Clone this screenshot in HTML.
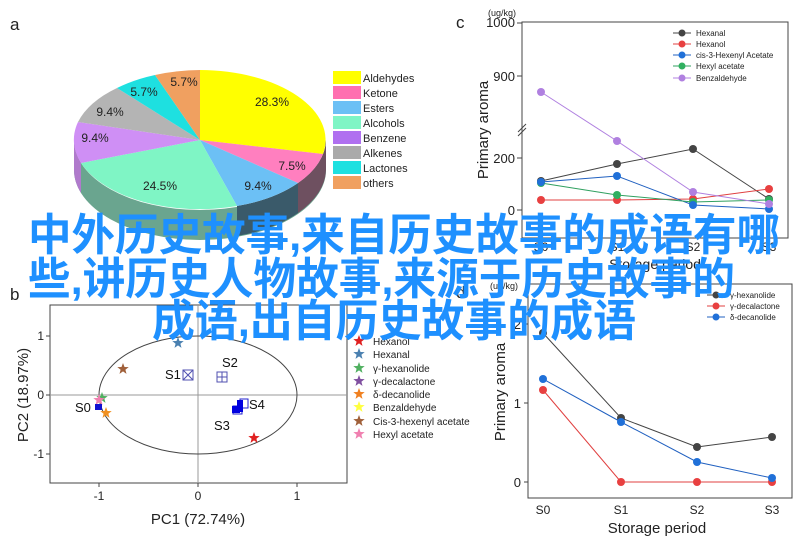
<!DOCTYPE html>
<html><head><meta charset="utf-8"><style>
html,body{margin:0;padding:0;background:#fff;}
svg{display:block;font-family:"Liberation Sans",Arial,sans-serif;}
</style></head><body>
<svg width="808" height="543" viewBox="0 0 808 543" xmlns="http://www.w3.org/2000/svg">
<defs>
<path id="star" d="M0,-6 L1.5,-2 L5.7,-1.9 L2.4,0.7 L3.5,4.9 L0,2.4 L-3.5,4.9 L-2.4,0.7 L-5.7,-1.9 L-1.5,-2 Z"/>
</defs>
<rect width="808" height="543" fill="#fff"/>
<!-- Panel a -->
<text x="10" y="30" font-size="17" fill="#222">a</text>
<path d="M74,140 A126,70 0 0 0 326,140 L326,170 A126,70 0 0 1 74,170 Z" fill="#6aa58f"/>
<path d="M237,206 A126,70 0 0 0 298,183 L298,213 A126,70 0 0 1 237,236 Z" fill="#3a5a6a"/>
<path d="M298,183 A126,70 0 0 0 326,140 L326,170 A126,70 0 0 1 298,213 Z" fill="#6e5060"/>
<path d="M74,140 A126,70 0 0 0 81,163 L81,193 A126,70 0 0 1 74,170 Z" fill="#b07acc"/>
<g stroke="none">
<path d="M200,140 L200,70 A126,70 0 0 1 323,154 Z" fill="#ffff00"/>
<path d="M200,140 L323,154 A126,70 0 0 1 298,183 Z" fill="#ff7fbf"/>
<path d="M200,140 L298,183 A126,70 0 0 1 237,206 Z" fill="#6cc0f5"/>
<path d="M200,140 L237,206 A126,70 0 0 1 81,163 Z" fill="#7ff5c5"/>
<path d="M200,140 L81,163 A126,70 0 0 1 78,122 Z" fill="#cf8ff5"/>
<path d="M200,140 L78,122 A126,70 0 0 1 117,88 Z" fill="#b4b4b4"/>
<path d="M200,140 L117,88 A126,70 0 0 1 155,75 Z" fill="#1ee0e0"/>
<path d="M200,140 L155,75 A126,70 0 0 1 200,70 Z" fill="#f0a060"/>
</g>
<g font-size="12" fill="#222" text-anchor="middle">
<text x="272" y="106">28.3%</text><text x="292" y="170">7.5%</text><text x="258" y="190">9.4%</text>
<text x="160" y="190">24.5%</text><text x="95" y="142">9.4%</text><text x="110" y="116">9.4%</text>
<text x="144" y="96">5.7%</text><text x="184" y="86">5.7%</text>
</g>
<g font-size="11" fill="#222">
<rect x="333" y="71" width="28" height="13" fill="#ffff00"/><text x="363" y="82">Aldehydes</text>
<rect x="333" y="86" width="28" height="13" fill="#ff6fb0"/><text x="363" y="97">Ketone</text>
<rect x="333" y="101" width="28" height="13" fill="#6cc0f5"/><text x="363" y="112">Esters</text>
<rect x="333" y="116" width="28" height="13" fill="#7ff5c5"/><text x="363" y="127">Alcohols</text>
<rect x="333" y="131" width="28" height="13" fill="#b070f0"/><text x="363" y="142">Benzene</text>
<rect x="333" y="146" width="28" height="13" fill="#aaaaaa"/><text x="363" y="157">Alkenes</text>
<rect x="333" y="161" width="28" height="13" fill="#1ee0e0"/><text x="363" y="172">Lactones</text>
<rect x="333" y="176" width="28" height="13" fill="#f0a060"/><text x="363" y="187">others</text>
</g>
<!-- Panel c -->
<text x="456" y="28" font-size="17" fill="#222">c</text>
<text x="488" y="16" font-size="9" fill="#222">(ug/kg)</text>
<rect x="522" y="22" width="266" height="216" fill="none" stroke="#444" stroke-width="1"/>
<g stroke="#444"><line x1="522" y1="23" x2="517" y2="23"/><line x1="522" y1="76" x2="517" y2="76"/><line x1="522" y1="158" x2="517" y2="158"/><line x1="522" y1="210" x2="517" y2="210"/></g>
<line x1="518" y1="132" x2="526" y2="124" stroke="#444"/><line x1="518" y1="136" x2="526" y2="128" stroke="#444"/>
<g font-size="13" fill="#222" text-anchor="end">
<text x="515" y="27">1000</text><text x="515" y="81">900</text><text x="515" y="163">200</text><text x="515" y="215">0</text>
</g>
<text transform="translate(488,130) rotate(-90)" font-size="15" text-anchor="middle" fill="#222">Primary aroma</text>
<g font-size="12" fill="#222" text-anchor="middle"><text x="541" y="251">S0</text><text x="617" y="251">S1</text><text x="693" y="251">S2</text><text x="769" y="251">S3</text></g>
<text x="655" y="269" font-size="14" text-anchor="middle" fill="#222">Storage period</text>
<g stroke-width="1" fill="none">
<polyline points="541,181 617,164 693,149 769,199" stroke="#444"/>
<polyline points="541,200 617,200 693,199 769,189" stroke="#e04040"/>
<polyline points="541,182 617,176 693,205 769,209" stroke="#2060c0"/>
<polyline points="541,183 617,195 693,202 769,200" stroke="#30a060"/>
<polyline points="541,92 617,141 693,192 769,204" stroke="#b080e0"/>
</g>
<g>
<circle cx="541" cy="181" r="4" fill="#444"/><circle cx="617" cy="164" r="4" fill="#444"/><circle cx="693" cy="149" r="4" fill="#444"/><circle cx="769" cy="199" r="4" fill="#444"/>
<circle cx="541" cy="200" r="4" fill="#e84040"/><circle cx="617" cy="200" r="4" fill="#e84040"/><circle cx="693" cy="199" r="4" fill="#e84040"/><circle cx="769" cy="189" r="4" fill="#e84040"/>
<circle cx="541" cy="183" r="4" fill="#30b060"/><circle cx="617" cy="195" r="4" fill="#30b060"/><circle cx="693" cy="202" r="4" fill="#30b060"/><circle cx="769" cy="200" r="4" fill="#30b060"/>
<circle cx="541" cy="182" r="4" fill="#2070d8"/><circle cx="617" cy="176" r="4" fill="#2070d8"/><circle cx="693" cy="205" r="4" fill="#2070d8"/><circle cx="769" cy="209" r="4" fill="#2070d8"/>
<circle cx="541" cy="92" r="4" fill="#b080e0"/><circle cx="617" cy="141" r="4" fill="#b080e0"/><circle cx="693" cy="192" r="4" fill="#b080e0"/><circle cx="769" cy="204" r="4" fill="#b080e0"/>
</g>
<g font-size="8" fill="#222">
<line x1="673" y1="33" x2="691" y2="33" stroke="#444"/><circle cx="682" cy="33" r="3.5" fill="#444"/><text x="696" y="36">Hexanal</text>
<line x1="673" y1="44" x2="691" y2="44" stroke="#e04040"/><circle cx="682" cy="44" r="3.5" fill="#e84040"/><text x="696" y="47">Hexanol</text>
<line x1="673" y1="55" x2="691" y2="55" stroke="#2060c0"/><circle cx="682" cy="55" r="3.5" fill="#2070d8"/><text x="696" y="58">cis-3-Hexenyl Acetate</text>
<line x1="673" y1="66" x2="691" y2="66" stroke="#30a060"/><circle cx="682" cy="66" r="3.5" fill="#30b060"/><text x="696" y="69">Hexyl acetate</text>
<line x1="673" y1="78" x2="691" y2="78" stroke="#b080e0"/><circle cx="682" cy="78" r="3.5" fill="#b080e0"/><text x="696" y="81">Benzaldehyde</text>
</g>
<!-- Panel b -->
<text x="10" y="300" font-size="17" fill="#222">b</text>
<rect x="50" y="305" width="297" height="178" fill="none" stroke="#444"/>
<line x1="198" y1="305" x2="198" y2="483" stroke="#999"/><line x1="50" y1="395" x2="347" y2="395" stroke="#999"/>
<ellipse cx="198" cy="395" rx="99" ry="59" fill="none" stroke="#444"/>
<g stroke="#444"><line x1="99" y1="483" x2="99" y2="487"/><line x1="198" y1="483" x2="198" y2="487"/><line x1="297" y1="483" x2="297" y2="487"/>
<line x1="50" y1="336" x2="46" y2="336"/><line x1="50" y1="395" x2="46" y2="395"/><line x1="50" y1="454" x2="46" y2="454"/></g>
<g font-size="12" fill="#222" text-anchor="middle"><text x="99" y="500">-1</text><text x="198" y="500">0</text><text x="297" y="500">1</text></g>
<g font-size="12" fill="#222" text-anchor="end"><text x="44" y="340">1</text><text x="44" y="399">0</text><text x="44" y="458">-1</text></g>
<text x="198" y="524" font-size="15" text-anchor="middle" fill="#222">PC1 (72.74%)</text>
<text transform="translate(28,395) rotate(-90)" font-size="15" text-anchor="middle" fill="#222">PC2 (18.97%)</text>
<use href="#star" x="178" y="343" fill="#4a80b0"/>
<use href="#star" x="123" y="369" fill="#a0603a"/>
<use href="#star" x="254" y="438" fill="#e02020"/>
<use href="#star" x="102" y="398" fill="#50b060"/>
<use href="#star" x="99" y="400" fill="#f080b0"/>
<use href="#star" x="106" y="413" fill="#f09020"/>
<rect x="95" y="404" width="7" height="6" fill="#1010d0"/>
<rect x="183" y="370" width="10" height="10" fill="none" stroke="#5050b0"/><path d="M183,370 L193,380 M193,370 L183,380" stroke="#5050b0"/>
<rect x="217" y="372" width="10" height="10" fill="none" stroke="#5050b0"/><path d="M222,372 V382 M217,377 H227" stroke="#5050b0"/>
<rect x="240" y="399" width="8" height="9" fill="none" stroke="#2020d0"/>
<rect x="233" y="406" width="9" height="8" fill="none" stroke="#2020d0"/>
<rect x="237" y="400" width="6" height="12" fill="#0000e0"/><rect x="232" y="406" width="8" height="7" fill="#0000e0"/>
<g font-size="13" fill="#111"><text x="165" y="379">S1</text><text x="222" y="367">S2</text><text x="249" y="409">S4</text><text x="214" y="430">S3</text><text x="75" y="412">S0</text></g>
<g font-size="10" fill="#222">
<use href="#star" x="359" y="341" fill="#e02020"/><text x="373" y="345">Hexanol</text>
<use href="#star" x="359" y="354" fill="#4a80b0"/><text x="373" y="358">Hexanal</text>
<use href="#star" x="359" y="368" fill="#50b060"/><text x="373" y="372">γ-hexanolide</text>
<use href="#star" x="359" y="381" fill="#8050a0"/><text x="373" y="385">γ-decalactone</text>
<use href="#star" x="359" y="394" fill="#f08020"/><text x="373" y="398">δ-decanolide</text>
<use href="#star" x="359" y="407" fill="#ffff40"/><text x="373" y="411">Benzaldehyde</text>
<use href="#star" x="359" y="421" fill="#a0603a"/><text x="373" y="425">Cis-3-hexenyl acetate</text>
<use href="#star" x="359" y="434" fill="#f080b0"/><text x="373" y="438">Hexyl acetate</text>
</g>
<!-- Panel d -->
<text x="456" y="298" font-size="17" fill="#222">d</text>
<text x="490" y="289" font-size="9" fill="#222">(ug/kg)</text>
<rect x="528" y="284" width="264" height="214" fill="none" stroke="#444"/>
<g stroke="#444"><line x1="528" y1="482" x2="524" y2="482"/><line x1="528" y1="403" x2="524" y2="403"/><line x1="528" y1="324" x2="524" y2="324"/></g>
<g font-size="13" fill="#222" text-anchor="end"><text x="521" y="487">0</text><text x="521" y="408">1</text><text x="521" y="329">2</text></g>
<text transform="translate(505,392) rotate(-90)" font-size="15" text-anchor="middle" fill="#222">Primary aroma</text>
<g font-size="12" fill="#222" text-anchor="middle"><text x="543" y="514">S0</text><text x="621" y="514">S1</text><text x="697" y="514">S2</text><text x="772" y="514">S3</text></g>
<text x="657" y="533" font-size="15" text-anchor="middle" fill="#222">Storage period</text>
<polyline points="543,333 621,418 697,447 772,437" fill="none" stroke="#444"/>
<polyline points="543,390 621,482 697,482 772,482" fill="none" stroke="#e04040"/>
<polyline points="543,379 621,422 697,462 772,478" fill="none" stroke="#2060c0"/>
<g fill="#444"><circle cx="543" cy="333" r="4"/><circle cx="621" cy="418" r="4"/><circle cx="697" cy="447" r="4"/><circle cx="772" cy="437" r="4"/></g>
<g fill="#e84040"><circle cx="543" cy="390" r="4"/><circle cx="621" cy="482" r="4"/><circle cx="697" cy="482" r="4"/><circle cx="772" cy="482" r="4"/></g>
<g fill="#2070d8"><circle cx="543" cy="379" r="4"/><circle cx="621" cy="422" r="4"/><circle cx="697" cy="462" r="4"/><circle cx="772" cy="478" r="4"/></g>
<g font-size="8" fill="#222">
<line x1="707" y1="295" x2="725" y2="295" stroke="#444"/><circle cx="716" cy="295" r="3.5" fill="#444"/><text x="730" y="298">γ-hexanolide</text>
<line x1="707" y1="306" x2="725" y2="306" stroke="#e04040"/><circle cx="716" cy="306" r="3.5" fill="#e84040"/><text x="730" y="309">γ-decalactone</text>
<line x1="707" y1="317" x2="725" y2="317" stroke="#2060c0"/><circle cx="716" cy="317" r="3.5" fill="#2070d8"/><text x="730" y="320">δ-decanolide</text>
</g>
<!-- Overlay title -->
<g font-family="'Liberation Sans','Noto Sans CJK SC',sans-serif" font-size="44" font-weight="bold" fill="#1e90ff">
<text x="28" y="250" textLength="752" lengthAdjust="spacingAndGlyphs">中外历史故事,来自历史故事的成语有哪</text>
<text x="28" y="294" textLength="707" lengthAdjust="spacingAndGlyphs">些,讲历史人物故事,来源于历史故事的</text>
<text x="152" y="336" textLength="484" lengthAdjust="spacingAndGlyphs">成语,出自历史故事的成语</text>
</g>
</svg>
</body></html>
